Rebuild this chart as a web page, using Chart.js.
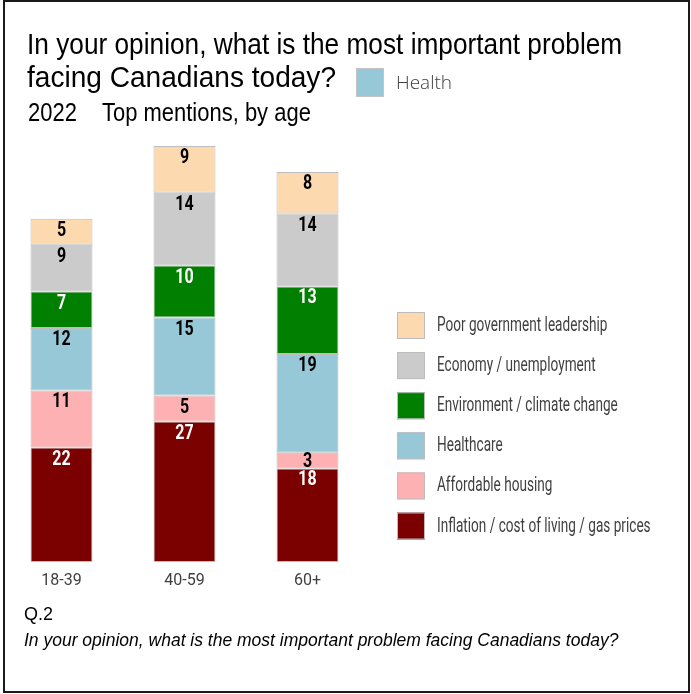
<!DOCTYPE html>
<html>
<head>
<meta charset="utf-8">
<script src="https://cdn.jsdelivr.net/npm/chart.js@4.4.1/dist/chart.umd.min.js"></script>
<style>
  html, body { margin: 0; padding: 0; background: #fff; }
  #wrap { position: relative; width: 691px; height: 694px; overflow: hidden; }
  #frame { position: absolute; left: 3px; top: 0px; width: 683px; height: 689px; border: 2px solid #1a1a1a; }
  canvas { position: absolute; left: 0; top: 0; }
  .t { position: absolute; white-space: nowrap; font-family: 'Liberation Sans', Arial, sans-serif; color: #000; transform-origin: left top; }
  .title { font-size: 29px; line-height: 32px; }
  .sub { font-size: 26px; line-height: 30px; transform: scaleX(0.845); }
  #health-box { position: absolute; left: 356px; top: 68px; width: 26px; height: 27px; background: #96c8d8; border: 1px solid #c4c4c4; }
  #health { left: 396px; top: 67px; font-family: 'Open Sans', sans-serif; font-weight: 300; font-size: 19px; line-height: 30px; color: #404040; }
  .foot { font-size: 18px; line-height: 22px; }
</style>
</head>
<body>
<div id="wrap">
  <canvas id="grafico" width="691" height="694"></canvas>
  <div id="frame"></div>
  <div class="t title" style="left:27px; top:28px; transform: scaleX(0.905);">In your opinion, what is the most important problem</div>
  <div class="t title" style="left:27px; top:61px; transform: scaleX(0.968);">facing Canadians today?</div>
  <div class="t sub" style="left:28px; top:97px;">2022</div>
  <div class="t sub" style="left:102px; top:97px;">Top mentions, by age</div>
  <div id="health-box"></div>
  <div class="t" id="health">Health</div>
  <div class="t foot" style="left:24px; top:603px;">Q.2</div>
  <div class="t foot" style="left:24px; top:629px; font-style: italic; font-size: 17.5px;">In your opinion, what is the most important problem facing Canadians today?</div>
</div>
<script>
// Faixas etárias
const categorias = ['18-39', '40-59', '60+'];

// Séries (de baixo para cima na pilha)
const nomesSeries = [
    'Inflation / cost of living / gas prices',
    'Affordable housing',
    'Healthcare',
    'Environment / climate change',
    'Economy / unemployment',
    'Poor government leadership'
];
const inflacao = [22, 27, 18];
const moradia = [11, 5, 3];
const saude = [12, 15, 19];
const ambiente = [7, 10, 13];
const economia = [9, 14, 14];
const lideranca = [5, 9, 8];

const cores = ['#7b0000', '#feb1b2', '#96c8d8', '#007f00', '#cbcbcb', '#fdd9af'];
const coresTexto = ['#ffffff', '#000000', '#000000', '#ffffff', '#000000', '#000000'];

const valores = [inflacao, moradia, saude, ambiente, economia, lideranca];

// Rótulos dentro de cada segmento
const rotulosSegmentos = {
    id: 'rotulosSegmentos',
    afterDatasetsDraw(chart) {
        const ctx = chart.ctx;
        chart.data.datasets.forEach((ds, i) => {
            const meta = chart.getDatasetMeta(i);
            meta.data.forEach((bar, j) => {
                const h = bar.base - bar.y;
                const cy = bar.y + Math.min(11, h / 2);
                ctx.save();
                ctx.translate(bar.x, cy);
                ctx.scale(0.8, 1);
                ctx.font = 'bold 20px Roboto';
                ctx.fillStyle = coresTexto[i];
                ctx.textAlign = 'center';
                ctx.textBaseline = 'middle';
                ctx.fillText(ds.data[j], 0, 1);
                ctx.restore();
            });
        });
    }
};

// Legenda à direita
const legendaDireita = {
    id: 'legendaDireita',
    afterDraw(chart) {
        const ctx = chart.ctx;
        const ds = chart.data.datasets.slice().reverse();
        ds.forEach((d, k) => {
            const y = 312 + k * 40.1;
            ctx.save();
            ctx.fillStyle = d.backgroundColor;
            ctx.fillRect(397, y, 28, 27);
            ctx.strokeStyle = '#bdbdbd';
            ctx.lineWidth = 1;
            ctx.strokeRect(397.5, y + 0.5, 27, 26);
            ctx.translate(437, y + 14);
            ctx.scale(0.68, 1);
            ctx.font = '20px Roboto';
            ctx.fillStyle = '#404040';
            ctx.textBaseline = 'middle';
            ctx.fillText(d.label, 0, 0);
            ctx.restore();
        });
    }
};

new Chart(document.getElementById('grafico'), {
    type: 'bar',
    data: {
        labels: categorias,
        datasets: nomesSeries.map((nome, i) => ({
            label: nome,
            data: valores[i],
            backgroundColor: cores[i],
            borderColor: '#bdbdbd',
            borderWidth: 1,
            borderSkipped: false,
            categoryPercentage: 1,
            barPercentage: 0.504
        }))
    },
    options: {
        responsive: false,
        devicePixelRatio: 1,
        animation: false,
        layout: { padding: { left: 0, right: 322, top: 146, bottom: 92 } },
        plugins: { legend: { display: false }, tooltip: { enabled: false } },
        scales: {
            x: {
                stacked: true,
                grid: { display: false, drawTicks: false },
                border: { display: false },
                ticks: {
                    padding: 9,
                    color: '#404040',
                    font: { family: 'Roboto', size: 16 }
                },
                afterFit(scale) { scale.height = 40; }
            },
            y: {
                stacked: true,
                display: false,
                min: 0,
                max: 80
            }
        }
    },
    plugins: [rotulosSegmentos, legendaDireita]
});
</script>
</body>
</html>
